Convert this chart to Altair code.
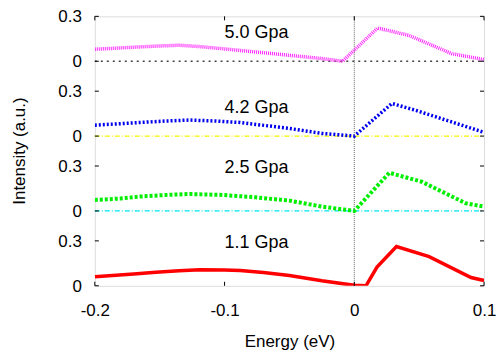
import altair as alt
import pandas as pd

# Data (each panel is offset by 0.5)
x_11 = [-0.2, -0.17, -0.153, -0.135, -0.119, -0.1, -0.088, -0.07, -0.05, -0.025, 0.0, 0.009, 0.0175, 0.0325, 0.0577, 0.09, 0.1]
y_11 = [0.06, 0.078, 0.091, 0.101, 0.107, 0.106, 0.102, 0.088, 0.069, 0.033, 0.003, 0.0, 0.125, 0.262, 0.195, 0.055, 0.035]

x_25 = [-0.2, -0.18, -0.165, -0.145, -0.127, -0.102, -0.076, -0.05, -0.025, 0.0, 0.027, 0.052, 0.086, 0.1]
y_25 = [0.073, 0.083, 0.096, 0.107, 0.113, 0.107, 0.091, 0.069, 0.029, 0.0, 0.255, 0.195, 0.051, 0.029]

x_42 = [-0.2, -0.18, -0.165, -0.145, -0.127, -0.108, -0.088, -0.05, -0.025, 0.0, 0.029, 0.047, 0.1]
y_42 = [0.073, 0.083, 0.091, 0.101, 0.107, 0.101, 0.091, 0.051, 0.018, 0.0, 0.218, 0.173, 0.025]

x_50 = [-0.2, -0.18, -0.165, -0.15, -0.135, -0.118, -0.102, -0.063, -0.025, -0.009, 0.018, 0.042, 0.075, 0.1]
y_50 = [0.08, 0.089, 0.096, 0.102, 0.107, 0.097, 0.084, 0.051, 0.018, 0.0, 0.222, 0.173, 0.051, 0.011]

labels = ["1.1 Gpa", "2.5 Gpa", "4.2 Gpa", "5.0 Gpa"]
label_y = [0.3, 0.3, 0.2, 0.2]
offsets = [0.0, 0.5, 1.0, 1.5]
x_ticks = [-0.2, -0.1, 0.0, 0.1]
y_ticks = [0, 0.3, 0.5, 0.8, 1.0, 1.3, 1.5, 1.8]
y_tick_labels = ["0", "0.3", "0", "0.3", "0", "0.3", "0", "0.3"]

FONT = "Liberation Sans"
W, H = 390, 270

xs = alt.Scale(domain=[-0.2, 0.1], nice=False, zero=False)
ys = alt.Scale(domain=[0, 1.8], nice=False, zero=False)


def series_df(xv, yv, off):
    return pd.DataFrame({"x": xv, "y": [v + off for v in yv]})


def line(df, color, width, dash=None):
    kw = dict(color=color, strokeWidth=width, clip=True)
    if dash:
        kw["strokeDash"] = dash
    return alt.Chart(df).mark_line(**kw).encode(
        x=alt.X("x:Q", scale=xs), y=alt.Y("y:Q", scale=ys))


axis_df = pd.DataFrame({"x": [-0.2], "y": [0.0]})
base = alt.Chart(axis_df).mark_point(opacity=0).encode(
    x=alt.X("x:Q", scale=xs, title="Energy (eV)",
            axis=alt.Axis(values=x_ticks, ticks=False, domain=False, grid=False,
                          labelFlush=False, labelOverlap=False,
                          labelPadding=17, titlePadding=15,
                          labelFontSize=17, titleFontSize=17,
                          labelFont=FONT, titleFont=FONT, labelColor="black",
                          titleColor="black", titleFontWeight="normal",
                          labelExpr="datum.value == 0 ? '0' : '' + datum.value")),
    y=alt.Y("y:Q", scale=ys, axis=None),
)

# y tick labels and title drawn as text
ylab_df = pd.DataFrame({"y": y_ticks, "t": y_tick_labels})
ylabels = alt.Chart(ylab_df).mark_text(align="right", baseline="middle", fontSize=17,
                                       font=FONT, color="black", dy=1).encode(
    y=alt.Y("y:Q", scale=ys), x=alt.value(-13), text="t:N")
ytitle = alt.Chart(pd.DataFrame({"t": ["Intensity (a.u.)"]})).mark_text(
    angle=270, align="center", baseline="middle", fontSize=17, font=FONT,
    color="black").encode(x=alt.value(-75), y=alt.value(H / 2), text="t:N")

b_cyan = alt.Chart(pd.DataFrame({"y": [0.5]})).mark_rule(
    color="#00e5ee", strokeWidth=1.3, strokeDash=[5, 2, 1, 2]).encode(
    y=alt.Y("y:Q", scale=ys), x=alt.value(0), x2=alt.value(W))
b_yellow = alt.Chart(pd.DataFrame({"y": [1.0]})).mark_rule(
    color="#f5f500", strokeWidth=1.3, strokeDash=[5, 2, 1, 2]).encode(
    y=alt.Y("y:Q", scale=ys), x=alt.value(0), x2=alt.value(W))
b_black = alt.Chart(pd.DataFrame({"y": [1.5]})).mark_rule(
    color="#444444", strokeWidth=1.3, strokeDash=[2, 4]).encode(
    y=alt.Y("y:Q", scale=ys), x=alt.value(0), x2=alt.value(W))

vline = alt.Chart(pd.DataFrame({"x": [0.0]})).mark_rule(
    color="#666666", strokeWidth=1, strokeDash=[1, 1]).encode(
    x=alt.X("x:Q", scale=xs), y=alt.value(0), y2=alt.value(H))

l11 = line(series_df(x_11, y_11, offsets[0]), "#ff0000", 3.5)
l25 = line(series_df(x_25, y_25, offsets[1]), "#00ee00", 4, [3, 2])
l42 = line(series_df(x_42, y_42, offsets[2]), "#0000ee", 3.5, [2, 2])
l50 = line(series_df(x_50, y_50, offsets[3]), "#ff22ff", 3.5, [1, 1])

lab_df = pd.DataFrame({"x": [-0.1] * 4,
                       "y": [o + v for o, v in zip(offsets, label_y)],
                       "t": labels})
texts = alt.Chart(lab_df).mark_text(align="left", baseline="middle", fontSize=18,
                                    font=FONT, color="black", dy=2).encode(
    x=alt.X("x:Q", scale=xs), y=alt.Y("y:Q", scale=ys), text="t:N")

xt = pd.DataFrame({"x": x_ticks})
yt = pd.DataFrame({"y": y_ticks})
tk_b = alt.Chart(xt).mark_rule(color="black", strokeWidth=1).encode(
    x=alt.X("x:Q", scale=xs), y=alt.value(H), y2=alt.value(H - 4))
tk_t = alt.Chart(xt).mark_rule(color="black", strokeWidth=1).encode(
    x=alt.X("x:Q", scale=xs), y=alt.value(0), y2=alt.value(4))
tk_l = alt.Chart(yt).mark_rule(color="black", strokeWidth=1).encode(
    y=alt.Y("y:Q", scale=ys), x=alt.value(0), x2=alt.value(4))
tk_r = alt.Chart(yt).mark_rule(color="black", strokeWidth=1).encode(
    y=alt.Y("y:Q", scale=ys), x=alt.value(W), x2=alt.value(W - 4))

chart = alt.layer(
    base, ylabels, ytitle, b_cyan, b_yellow, b_black, vline, l11, l25, l42, l50, texts,
    tk_b, tk_t, tk_l, tk_r
).properties(
    width=W, height=H,
    autosize=alt.AutoSizeParams(type="none"),
    padding={"left": 87, "top": 8, "right": 12, "bottom": 67},
).configure_view(stroke="black", strokeWidth=1.3).configure(background="white")

chart.save("out.html", embed_options={"renderer": "svg", "actions": False})
